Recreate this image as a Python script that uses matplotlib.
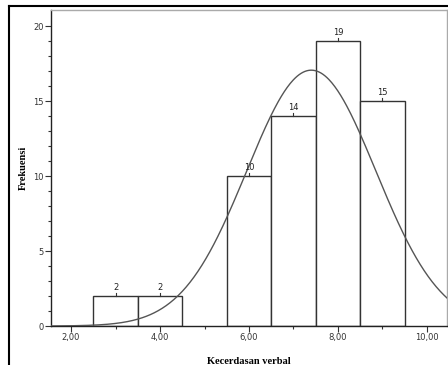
import numpy as np
import matplotlib
matplotlib.use("Agg")
import matplotlib.pyplot as plt
from matplotlib.lines import Line2D
from matplotlib.ticker import FixedLocator, FuncFormatter

bin_left = [2.5, 3.5, 5.5, 6.5, 7.5, 8.5]
bin_width = 1.0
counts = [2, 2, 10, 14, 19, 15]
mean = 7.40
sd = 1.45
n_total = 62
x_ticks = [2, 4, 6, 8, 10]
y_ticks = [0, 5, 10, 15, 20]

fig = plt.figure(figsize=(4.48, 3.65), dpi=100)
ax = fig.add_axes([51/448, 1-326/365, (447-51)/448, (326-10)/365])

ax.bar(bin_left, counts, width=bin_width, align="edge", facecolor="white",
       edgecolor="#333333", linewidth=1.0, zorder=2)

xs = np.linspace(1.55, 10.45, 400)
ys = n_total * bin_width / (sd * np.sqrt(2*np.pi)) * np.exp(-0.5*((xs-mean)/sd)**2)
ax.plot(xs, ys, color="#555555", linewidth=1.0, zorder=3)

for l, c in zip(bin_left, counts):
    xc = l + bin_width/2
    ax.annotate(str(c), xy=(xc, c), xytext=(0, 6), textcoords="offset points",
                ha="center", va="center", fontsize=6, color="#222222",
                family="DejaVu Sans")
    ax.plot([xc, xc], [c, c + 0.2], color="#333333", linewidth=0.8, zorder=3)

ax.set_xlim(1.55, 10.45)
ax.set_ylim(0, 21.07)
ax.xaxis.set_major_locator(FixedLocator(x_ticks))
ax.xaxis.set_minor_locator(FixedLocator([3, 5, 7, 9]))
ax.yaxis.set_major_locator(FixedLocator(y_ticks))
ax.yaxis.set_minor_locator(FixedLocator([v for v in range(1, 21) if v % 5]))
ax.xaxis.set_major_formatter(FuncFormatter(lambda v, p: f"{v:.2f}".replace(".", ",")))
ax.tick_params(axis="both", which="major", length=4, width=0.8, labelsize=6,
               colors="#333333", pad=1)
ax.tick_params(axis="both", which="minor", length=2, width=0.8, colors="#333333")

for s in ["top", "right"]:
    ax.spines[s].set_color("#aaaaaa")
    ax.spines[s].set_linewidth(1.0)
for s in ["left", "bottom"]:
    ax.spines[s].set_color("#222222")
    ax.spines[s].set_linewidth(1.0)

ax.set_xlabel("Kecerdasan verbal", fontsize=7.5, fontweight="bold",
              family="Liberation Serif", labelpad=11)
ax.set_ylabel("Frekuensi", fontsize=7.5, fontweight="bold",
              family="Liberation Serif", labelpad=4)

fig.add_artist(Line2D([9/448, 1], [1-6/365, 1-6/365], color="black", linewidth=1.5))
fig.add_artist(Line2D([9/448, 9/448], [0, 1-6/365], color="black", linewidth=1.5))

fig.savefig("out.png", dpi=100)
